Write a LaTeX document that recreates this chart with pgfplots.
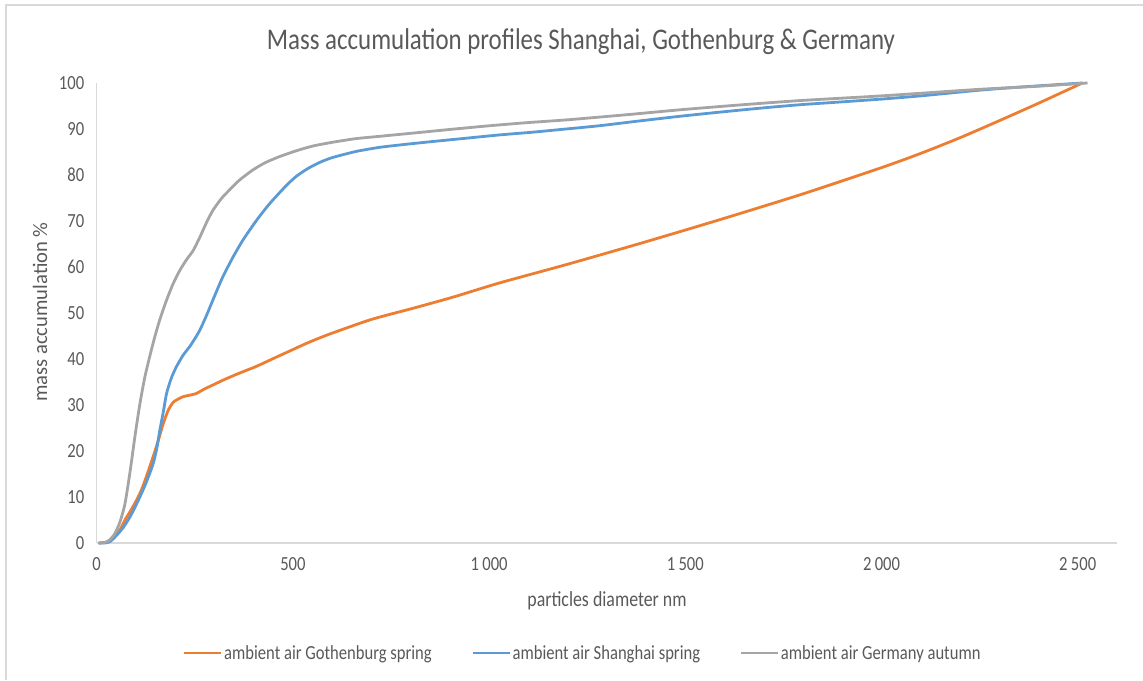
\documentclass[border=0pt]{standalone}
\usepackage{fontspec}
\setmainfont{Carlito}[FakeStretch=0.83]
\newfontfamily\rotfont{Carlito}
\usepackage{pgfplots}
\pgfplotsset{compat=1.18}
\definecolor{cOr}{HTML}{ED7D31}
\definecolor{cBl}{HTML}{5B9BD5}
\definecolor{cGr}{HTML}{A5A5A5}
\definecolor{cAx}{HTML}{D9D9D9}
\definecolor{cTx}{HTML}{595959}
\begin{document}
\begin{tikzpicture}[x=1pt,y=1pt]
\path[use as bounding box] (0,0) rectangle (1143,680);
\draw[cAx, line width=1.5pt] (6,0) -- (6,675) -- (1143,675);
\node[text=cTx, font=\fontsize{30}{36}\selectfont] at (581,638) {Mass accumulation profiles Shanghai, Gothenburg \& Germany};
\node[text=cTx, font=\rotfont\fontsize{20.6}{24}\selectfont, rotate=90] at (40,368) {mass accumulation \%};
\node[text=cTx, font=\fontsize{21.5}{26}\selectfont] at (607,79) {particles diameter nm};
\begin{axis}[
  at={(96.7pt,137pt)}, anchor=south west,
  scale only axis, width=1020.3pt, height=460pt,
  xmin=0, xmax=2600, ymin=0, ymax=100,
  axis lines*=left, axis line style={cAx, line width=1.5pt},
  major tick length=0pt,
  xtick={0,500,1000,1500,2000,2500},
  xticklabels={0,500,1\,000,1\,500,2\,000,2\,500},
  ytick={0,10,...,100},
  tick label style={font=\fontsize{20}{24}\selectfont, text=cTx},
  xticklabel style={yshift=-11pt},
  yticklabel style={xshift=-9pt},
  /pgf/number format/assume math mode=true,
  clip=false,
  legend columns=3,
  legend style={at={(0.4761,-0.2391)}, anchor=center, draw=none, fill=none,
    font=\fontsize{20}{24}\selectfont, text=cTx,
    nodes={inner sep=1.5pt},
    /tikz/every even column/.append style={column sep=38pt}},
  legend image code/.code={\draw[#1] (0pt,0pt) -- (37pt,0pt);},
  every axis plot/.append style={line width=2.8pt, smooth, tension=0.4, line join=round},
]
\addplot[cOr] coordinates {(5,0) (25,0.2) (42,1.2) (59,2.8) (72,5) (85,6.8) (97,8.6) (108,10.4) (118,12.4) (131,15.5) (144,18.8) (157,22.3) (169,25.8) (182,28.8) (195,30.6) (208,31.3) (220,31.8) (235,32.1) (254,32.5) (275,33.5) (300,34.5) (322,35.4) (360,36.8) (407,38.4) (450,40.1) (491,41.7) (540,43.6) (593,45.4) (700,48.6) (805,51) (910,53.5) (1025,56.5) (1200,60.6) (1400,65.5) (1600,70.6) (1800,75.9) (2000,81.6) (2100,84.7) (2200,88.1) (2300,91.8) (2400,95.6) (2512,100)};
\addlegendentry{ambient air Gothenburg spring}
\addplot[cBl] coordinates {(5,0) (20,0) (34,0.3) (50,1.6) (68,3.4) (85,5.7) (100,8.2) (118,11.5) (131,14.2) (144,17.3) (153,20.5) (161,24.6) (170,28.6) (178,32.5) (190,35.8) (203,38.3) (220,40.8) (237,42.7) (250,44.4) (263,46.3) (280,49.5) (296,52.8) (320,57.6) (347,62.1) (373,65.9) (407,70.1) (440,73.7) (483,77.7) (510,79.8) (540,81.5) (570,82.8) (601,83.8) (660,85.1) (720,86) (780,86.6) (847,87.2) (930,87.9) (1025,88.7) (1110,89.3) (1184,89.9) (1280,90.7) (1388,91.8) (1490,92.8) (1592,93.7) (1700,94.6) (1796,95.3) (1900,95.9) (2000,96.5) (2100,97.2) (2245,98.4) (2350,99.1) (2512,100)};
\addlegendentry{ambient air Shanghai spring}
\addplot[cGr] coordinates {(5,0) (20,0.1) (32,0.6) (46,2) (59,4.5) (72,8.5) (85,15.5) (98,23.5) (110,30.2) (122,35.8) (135,40.5) (148,44.8) (161,48.6) (178,52.8) (195,56.4) (212,59.3) (229,61.6) (246,63.6) (263,66.5) (280,69.7) (296,72.3) (318,74.9) (339,76.8) (364,78.9) (398,81.1) (430,82.7) (466,84) (510,85.3) (551,86.3) (600,87.1) (660,87.9) (720,88.4) (805,89.1) (900,89.9) (1000,90.7) (1100,91.4) (1200,92.0) (1350,93.1) (1490,94.2) (1650,95.3) (1796,96.2) (2000,97.2) (2245,98.6) (2400,99.3) (2525,100)};
\addlegendentry{ambient air Germany autumn}
\end{axis}
\end{tikzpicture}
\end{document}
